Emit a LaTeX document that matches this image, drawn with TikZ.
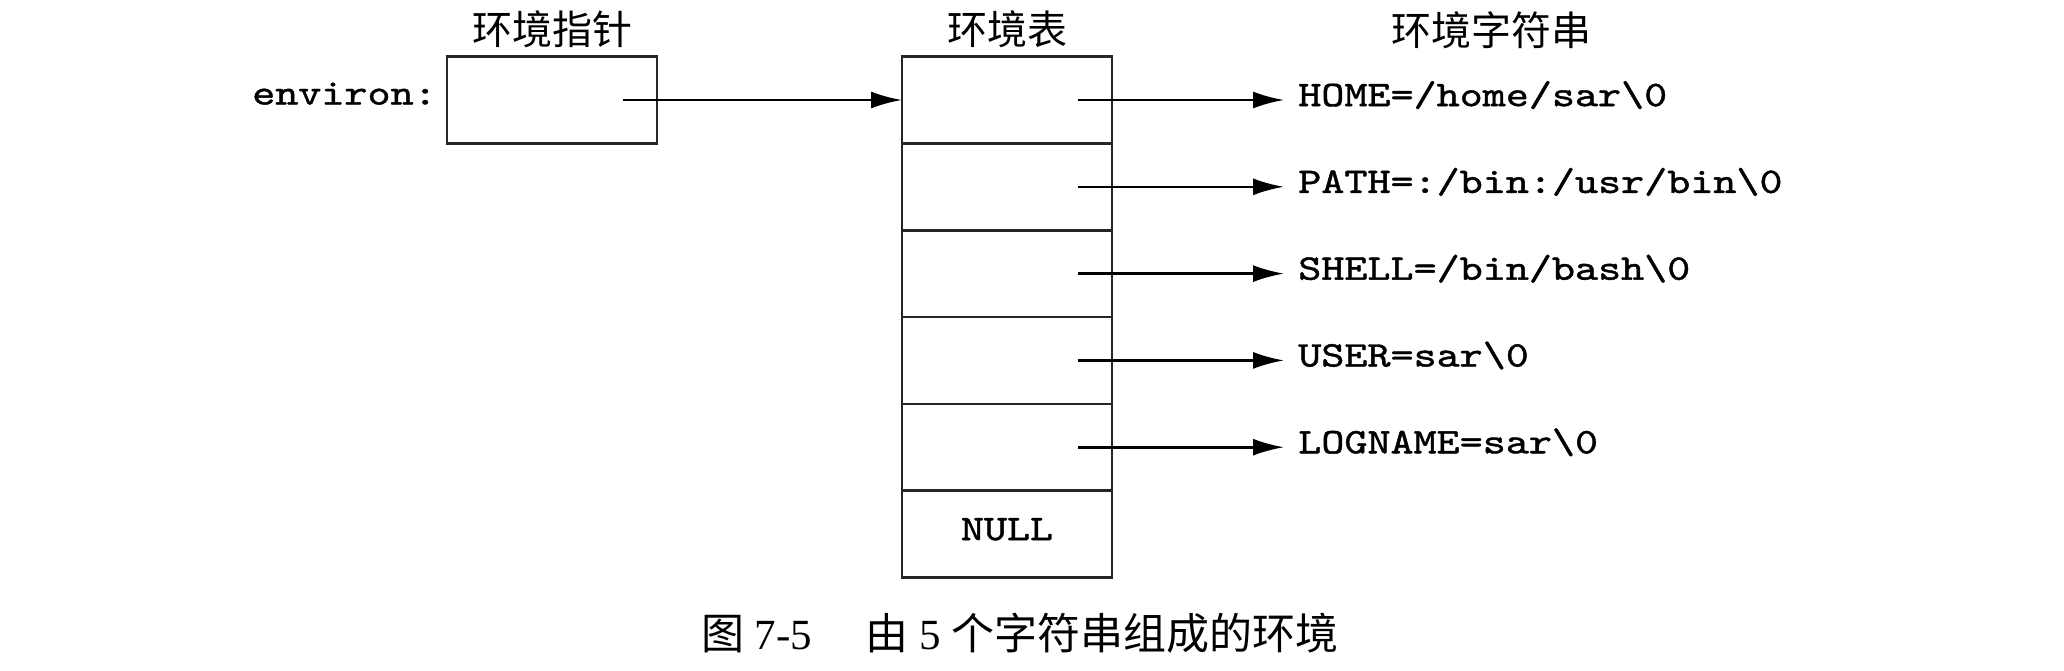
\documentclass[tikz,border=0pt]{standalone}
\usepackage{fontspec}
\setmainfont{Liberation Serif}
\setmonofont{lmmono10-regular.otf}[FakeStretch=1.22,FakeBold=1.2]
\newfontfamily\cjk{Noto Sans CJK SC}
\usetikzlibrary{positioning,arrows.meta}
\begin{document}
\begin{tikzpicture}[->,>={Latex[length=15.5pt,width=8.5pt]}, line width=1.3pt, x=0.5pt, y=-0.5pt, every node/.style={node distance=43.4pt}]
    \tikzset{cell/.style={draw=black!85,line width=1.3pt,minimum width=105pt,minimum height=43.4pt,inner sep=0pt,outer sep=0pt},
      head/.style={font=\fontsize{20pt}{24pt}\selectfont\cjk,inner sep=0pt},
      str/.style={font=\fontsize{18pt}{22pt}\selectfont\ttfamily,text height=0.61em,text depth=0pt,inner xsep=6.5pt,inner ysep=0pt},
      capt/.style={font=\fontsize{21.5pt}{26pt}\selectfont,inner sep=0pt}};
    \useasboundingbox (0,0) rectangle (2064,670);
    % pointer and table
    \node[cell] (pBox) at (552,100) {};
    \node[cell] (tRow1) at (1007,100) {};
    \node[cell, below of=tRow1] (tRow2) {};
    \node[cell, below of=tRow2] (tRow3) {};
    \node[cell, below of=tRow3] (tRow4) {};
    \node[cell, below of=tRow4] (tRow5) {};
    \node[cell, below of=tRow5, font=\fontsize{18pt}{22pt}\selectfont\ttfamily, text height=0.61em, text depth=0pt] (tRow6) {NULL};
    % labels
    \node[str, inner xsep=0pt, text height=0.45em, left=4.5pt of pBox] (lEnv) {environ:};
    \node[head, above=3.5pt of pBox] (lPtr) {环境指针};
    \node[head, above=3.5pt of tRow1] (lTab) {环境表};
    \node[head, right=161pt of lTab] (lStr) {环境字符串};
    % strings
    \node[str, right=86pt of tRow1] (sHome) {HOME=/home/sar\textbackslash 0};
    \node[str, right=86pt of tRow2] (sPath) {PATH=:/bin:/usr/bin\textbackslash 0};
    \node[str, right=86pt of tRow3] (sShell) {SHELL=/bin/bash\textbackslash 0};
    \node[str, right=86pt of tRow4] (sUser) {USER=sar\textbackslash 0};
    \node[str, right=86pt of tRow5] (sLog) {LOGNAME=sar\textbackslash 0};
    \node[capt, below=17pt of tRow6, xshift=6.5pt] (lCap) {{\cjk 图} 7-5\hspace{1.25em}{\cjk 由} 5 {\cjk 个字符串组成的环境}};
    % pointer tails
    \coordinate (pOut) at ([xshift=35.5pt]pBox.center);
    \coordinate (tOut1) at ([xshift=35.5pt]tRow1.center);
    \coordinate (tOut2) at ([xshift=35.5pt]tRow2.center);
    \coordinate (tOut3) at ([xshift=35.5pt]tRow3.center);
    \coordinate (tOut4) at ([xshift=35.5pt]tRow4.center);
    \coordinate (tOut5) at ([xshift=35.5pt]tRow5.center);
    {
       \path
        (pOut) edge (tRow1.west)
        (tOut1) edge (sHome.west)
        (tOut2) edge (sPath.west)
        (tOut3) edge (sShell.west)
        (tOut4) edge (sUser.west)
        (tOut5) edge (sLog.west)
        ;
      }
\end{tikzpicture}
\end{document}
